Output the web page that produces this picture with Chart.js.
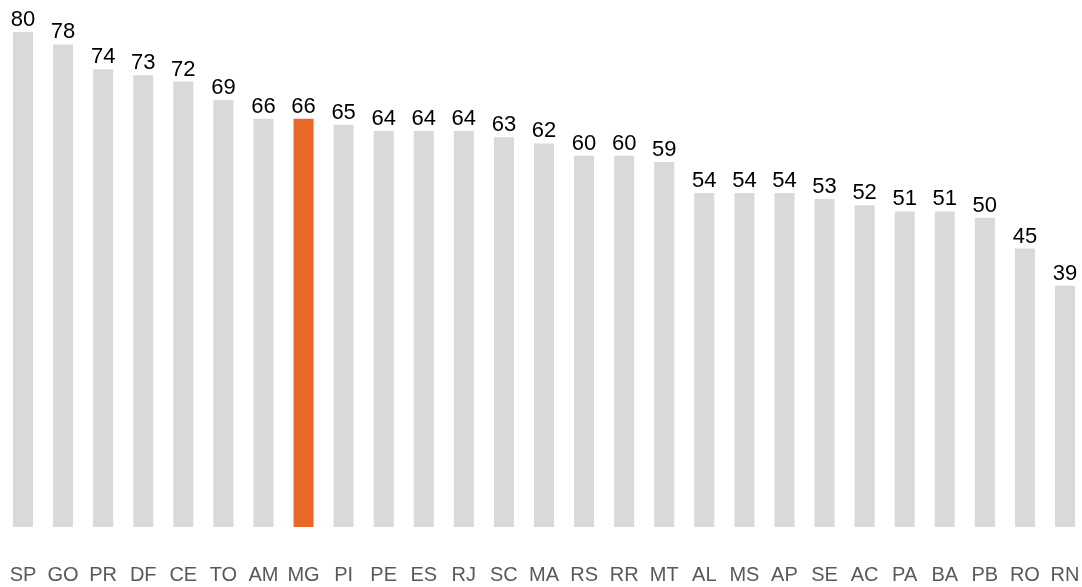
<!DOCTYPE html>
<html>
<head>
<meta charset="utf-8">
<script src="https://cdn.jsdelivr.net/npm/chart.js@4"></script>
<style>
  body { margin: 0; background: #fff; }
  #wrap { width: 1082px; height: 587px; position: relative; }
</style>
</head>
<body>
<div id="wrap"><canvas id="myChart"></canvas></div>
<script>
const states = ["SP", "GO", "PR", "DF", "CE", "TO", "AM", "MG", "PI", "PE", "ES", "RJ", "SC", "MA",
    "RS", "RR", "MT", "AL", "MS", "AP", "SE", "AC", "PA", "BA", "PB", "RO", "RN"];
const values = [80, 78, 74, 73, 72, 69, 66, 66, 65, 64, 64, 64, 63, 62,
    60, 60, 59, 54, 54, 54, 53, 52, 51, 51, 50, 45, 39];
const highlight = "MG";

const grey = "#D9D9D9";
const orange = "#E8692A";
const fontFamily = "'Liberation Sans', Arial, sans-serif";

// value labels above each bar
const valueLabels = {
    id: "valueLabels",
    afterDatasetsDraw(chart) {
        const ctx = chart.ctx;
        const meta = chart.getDatasetMeta(0);
        ctx.save();
        ctx.font = "22px " + fontFamily;
        ctx.fillStyle = "#000";
        ctx.textAlign = "center";
        ctx.textBaseline = "alphabetic";
        meta.data.forEach((bar, i) => {
            ctx.fillText(String(values[i]), bar.x, bar.y - 6);
        });
        ctx.restore();
    }
};

const ctx = document.getElementById("myChart").getContext("2d");
const myChart = new Chart(ctx, {
    type: "bar",
    data: {
        labels: states,
        datasets: [{
            data: values,
            backgroundColor: states.map(s => s === highlight ? orange : grey),
            barPercentage: 0.5,
            categoryPercentage: 1,
            clip: false
        }]
    },
    options: {
        responsive: true,
        maintainAspectRatio: false,
        animation: false,
        layout: { padding: { left: 23, right: 17, top: 32, bottom: 0 } },
        plugins: {
            legend: { display: false },
            tooltip: { enabled: false }
        },
        scales: {
            x: {
                offset: false,
                grid: {
                    display: true,
                    color: "transparent",
                    drawOnChartArea: false,
                    drawTicks: true,
                    tickLength: 36,
                    offset: false
                },
                border: { display: false },
                ticks: {
                    padding: 0,
                    color: "#595959",
                    font: { size: 20, family: fontFamily },
                    maxRotation: 0,
                    autoSkip: false
                }
            },
            y: {
                display: false,
                min: 0,
                max: 80
            }
        }
    },
    plugins: [valueLabels]
});
</script>
</body>
</html>
